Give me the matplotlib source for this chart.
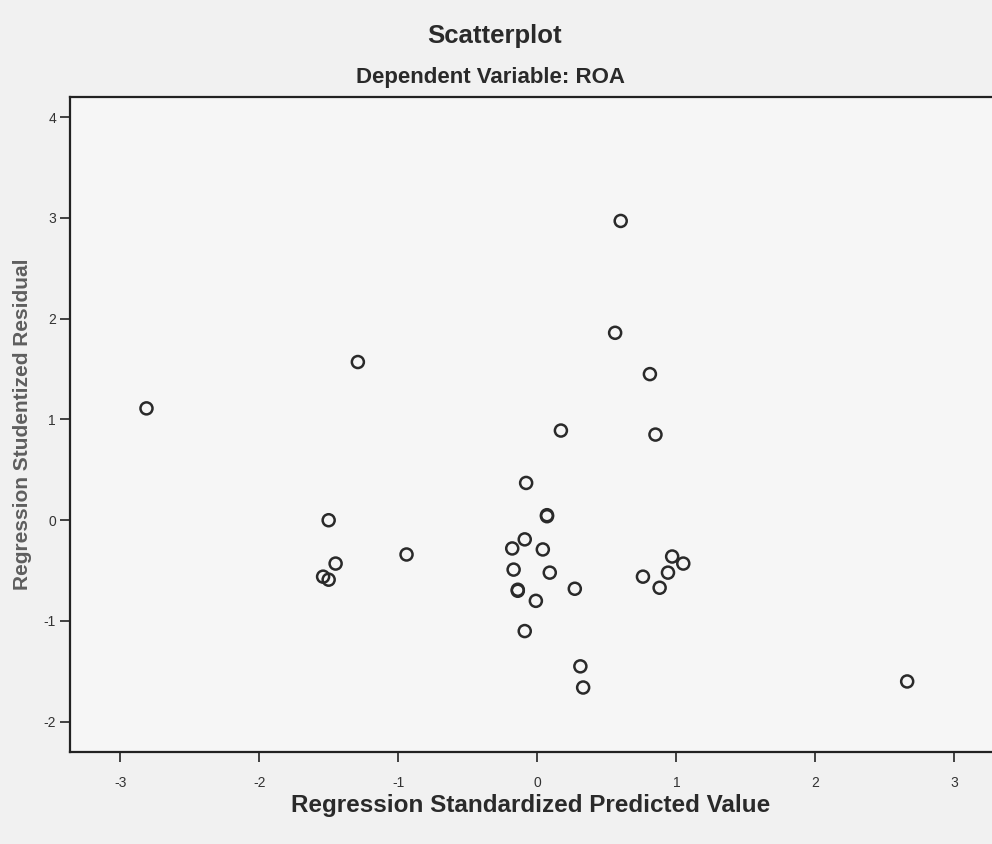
import matplotlib.pyplot as plt
import numpy as np

# valores (predicho estandarizado, residuo studentizado)
pred_std = [-2.81, -1.29, -1.50, -1.45, -1.54, -1.50, -0.94,
            0.60, 0.56, 0.81, 0.85, 0.17, -0.08, 0.07, 0.07,
            -0.09, -0.18, 0.04, -0.17, 0.09, -0.14, -0.14, -0.01,
            0.27, -0.09, 0.31, 0.33, 0.76, 0.88, 0.94, 0.97, 1.05, 2.66]
resid_stud = [1.11, 1.57, 0.00, -0.43, -0.56, -0.59, -0.34,
              2.97, 1.86, 1.45, 0.85, 0.89, 0.37, 0.05, 0.04,
              -0.19, -0.28, -0.29, -0.49, -0.52, -0.70, -0.69, -0.80,
              -0.68, -1.10, -1.45, -1.66, -0.56, -0.67, -0.52, -0.36, -0.43, -1.60]

x_ticks = [-3, -2, -1, 0, 1, 2, 3]
y_ticks = [-2, -1, 0, 1, 2, 3, 4]

plt.rcParams["font.family"] = ["Liberation Sans", "DejaVu Sans"]
plt.rcParams["axes.unicode_minus"] = False

W, H = 992, 844
fig = plt.figure(figsize=(W / 100, H / 100), dpi=100, facecolor="#f1f1f1")
ax = fig.add_axes([70 / W, 1 - 752 / H, (W - 70) / W, (752 - 97) / H])
ax.set_facecolor("#f6f6f6")

ax.scatter(pred_std, resid_stud, s=75, facecolors="none",
           edgecolors="#2a2a2a", linewidths=1.8, zorder=3)

ax.set_xlim(-3.36, 3.27)
ax.set_ylim(-2.3, 4.2)
ax.set_xticks(x_ticks)
ax.set_yticks(y_ticks)
ax.tick_params(direction="out", length=7, width=1.3, color="#333333",
               labelsize=10, labelcolor="#333333")
ax.tick_params(axis="x", pad=10)
ax.tick_params(axis="y", pad=3)
ax.spines["right"].set_visible(False)
for s in ["left", "bottom", "top"]:
    ax.spines[s].set_linewidth(1.6)
    ax.spines[s].set_color("#222222")

ax.set_xlabel("Regression Standardized Predicted Value", fontsize=17.5,
              fontweight="bold", color="#2a2a2a", labelpad=3)
ax.set_ylabel("Regression Studentized Residual", fontsize=15,
              fontweight="bold", color="#5e5e5e", labelpad=8)

fig.text(495 / W, 1 - 36 / H, "Scatterplot", ha="center", va="center",
         fontsize=18.5, fontweight="bold", color="#2a2a2a")
fig.text(490 / W, 1 - 78 / H, "Dependent Variable: ROA", ha="center",
         va="center", fontsize=16, fontweight="bold", color="#2a2a2a")

fig.savefig("out.png", dpi=100, facecolor=fig.get_facecolor())
